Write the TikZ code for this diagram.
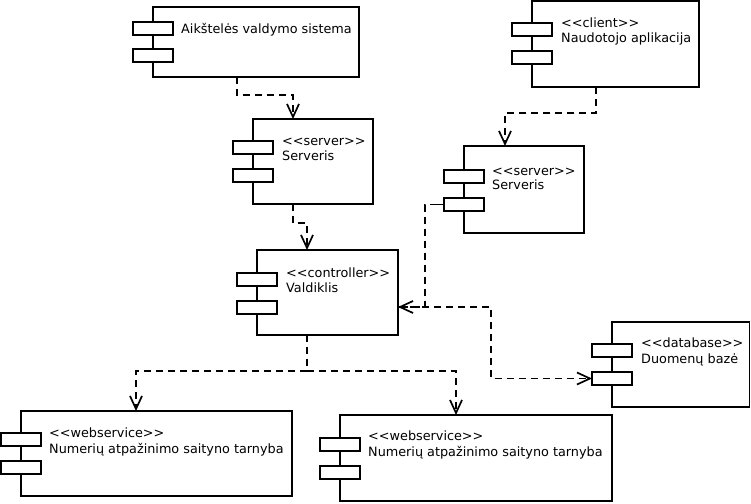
\documentclass[tikz,border=0pt]{standalone}
\usepackage{fontspec}
\setmainfont{DejaVu Sans}[Ligatures=TeXOff]
\usetikzlibrary{arrows.meta,calc}
\begin{document}
\begin{tikzpicture}[x=1pt,y=-1pt,
  comp/.style={draw, line width=1.9pt, anchor=north west, inner sep=0pt, outer sep=0pt},
  port/.style={draw, fill=white, line width=1.9pt, anchor=north west, minimum width=40pt, minimum height=13pt, inner sep=0pt, outer sep=0pt},
  lbl/.style={anchor=base west, inner sep=0pt, font=\fontsize{12.8}{15}\selectfont},
  dep/.style={line width=1.9pt, dash pattern=on 7pt off 5pt, -{Straight Barb[length=13pt,width=12pt,line width=1.7pt]}}]
\useasboundingbox (0,0) rectangle (751,503);

% Aikstele
\node[comp, minimum width=206pt, minimum height=70pt] (aik) at (153,7) {};
\node[port] (aikp1) at (133,22) {};
\node[port] (aikp2) at (133,49) {};
\node[lbl] (aikt) at (181,33.5) {Aikštelės valdymo sistema};

% client
\node[comp, minimum width=167pt, minimum height=86pt] (cli) at (532,1) {};
\node[port] (clip1) at (512,23) {};
\node[port] (clip2) at (512,51) {};
\node[lbl] (clis) at (561,28) {<<client>>};
\node[lbl] (clin) at (561,42.5) {Naudotojo aplikacija};

% server right
\node[comp, minimum width=120pt, minimum height=87pt] (srvR) at (464,146) {};
\node[port] (srvRp1) at (444,170) {};
\node[port] (srvRp2) at (444,198) {};
\node[lbl] (srvRs) at (492,175) {<<server>>};
\node[lbl] (srvRn) at (492,189.5) {Serveris};

% server middle
\node[comp, minimum width=120pt, minimum height=85pt] (srvM) at (253,119) {};
\node[port] (srvMp1) at (233,141) {};
\node[port] (srvMp2) at (233,169) {};
\node[lbl] (srvMs) at (282,145) {<<server>>};
\node[lbl] (srvMn) at (282,160) {Serveris};

% controller
\node[comp, minimum width=141pt, minimum height=85pt] (ctl) at (257,250) {};
\node[port] (ctlp1) at (237,273) {};
\node[port] (ctlp2) at (237,301) {};
\node[lbl] (ctls) at (286,277) {<<controller>>};
\node[lbl] (ctln) at (286,292) {Valdiklis};

% database
\node[comp, minimum width=137.5pt, minimum height=85pt] (db) at (612,322) {};
\node[port] (dbp1) at (592,344) {};
\node[port] (dbp2) at (592,372) {};
\node[lbl] (dbs) at (641,347) {<<database>>};
\node[lbl] (dbn) at (641,363) {Duomenų bazė};

% webservice left
\node[comp, minimum width=271pt, minimum height=85pt] (wsL) at (21,411) {};
\node[port] (wsLp1) at (1,433) {};
\node[port] (wsLp2) at (1,461) {};
\node[lbl] (wsLs) at (49,437) {<<webservice>>};
\node[lbl] (wsLn) at (49,453) {Numerių atpažinimo saityno tarnyba};

% webservice right
\node[comp, minimum width=272pt, minimum height=86pt] (wsR) at (340,415) {};
\node[port] (wsRp1) at (320,438) {};
\node[port] (wsRp2) at (320,466) {};
\node[lbl] (wsRs) at (368,440) {<<webservice>>};
\node[lbl] (wsRn) at (368,456) {Numerių atpažinimo saityno tarnyba};

% connectors
\draw[dep] ($(aik.south west)+(84,0)$) -- ++(0,18) -| ($(srvM.north west)+(40,0)$);
\draw[dep] ($(cli.south west)+(64,0)$) -- ++(0,26) -| ($(srvR.north west)+(41,0)$);
\draw[dep] ($(srvM.south west)+(40,0)$) -- ++(0,19) -| ($(ctl.north west)+(50,0)$);
\draw[line width=1.9pt] (srvRp2.west) -- ++(-7,0) coordinate (stub);
\draw[dep] (stub) -- ++(-12,0) |- ($(ctl.north east)+(0,57)$);
\draw[dep] ($(ctl.north east)+(0,57)$) -- ++(93,0) |- (dbp2.west);
\draw[dep] ($(ctl.south west)+(50,0)$) -- ++(0,36) coordinate (split) -| ($(wsL.north west)+(115,0)$);
\draw[dep] (split) -| ($(wsR.north west)+(116,0)$);
\end{tikzpicture}
\end{document}
